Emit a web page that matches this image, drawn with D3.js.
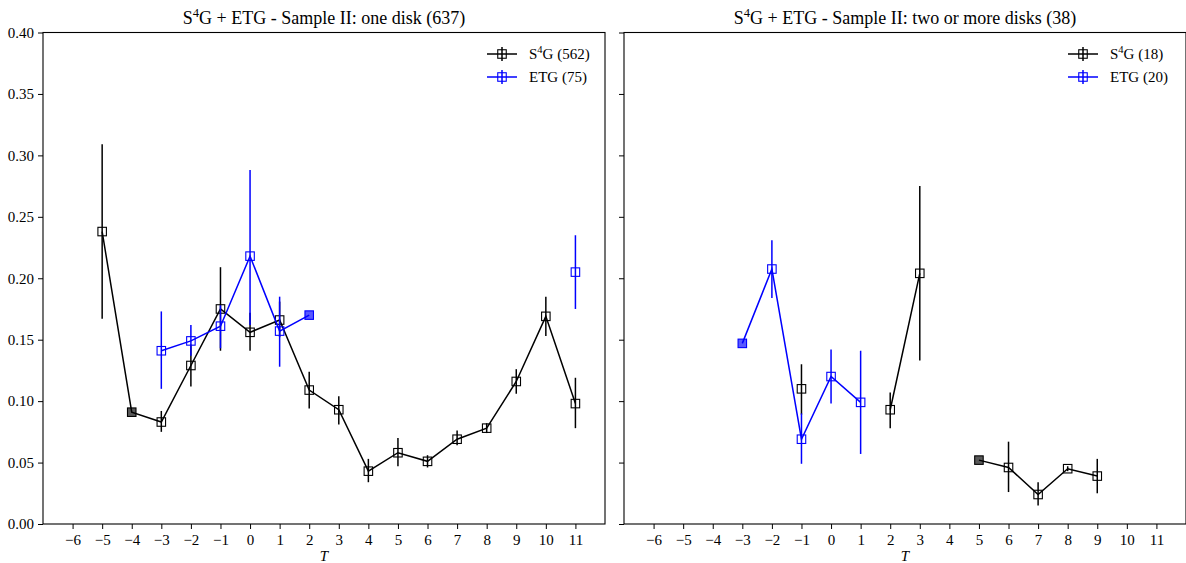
<!DOCTYPE html>
<html>
<head>
<meta charset="utf-8">
<script src="https://cdn.jsdelivr.net/npm/d3@7"></script>
<style>
  html, body { margin: 0; padding: 0; background: #fff; }
  svg { display: block; }
  text { font-family: "Liberation Serif", "DejaVu Serif", serif; fill: #000; }
</style>
</head>
<body>
<svg id="chart" width="1186" height="563"></svg>
<script>
// Morphological type axis
const tTicks = [-6, -5, -4, -3, -2, -1, 0, 1, 2, 3, 4, 5, 6, 7, 8, 9, 10, 11];
const yTicks = [0.00, 0.05, 0.10, 0.15, 0.20, 0.25, 0.30, 0.35, 0.40];

// Panel 1: one disk
const oneDiskS4gT   = [-5, -4, -3, -2, -1, 0, 1, 2, 3, 4, 5, 6, 7, 8, 9, 10, 11];
const oneDiskS4gVal = [0.238, 0.091, 0.083, 0.129, 0.175, 0.156, 0.166, 0.109, 0.093, 0.043, 0.058, 0.051, 0.069, 0.078, 0.116, 0.169, 0.098];
const oneDiskS4gLo  = [0.167, null, 0.075, 0.112, 0.141, 0.141, 0.152, 0.094, 0.081, 0.034, 0.047, 0.046, 0.064, 0.074, 0.106, 0.153, 0.078];
const oneDiskS4gHi  = [0.309, null, 0.092, 0.146, 0.209, 0.172, 0.181, 0.124, 0.104, 0.053, 0.070, 0.056, 0.076, 0.082, 0.126, 0.185, 0.119];

const oneDiskEtgT   = [-3, -2, -1, 0, 1, 2, 3, 4, 5, 6, 7, 8, 9, 10, 11];
const oneDiskEtgVal = [0.141, 0.149, 0.161, 0.218, 0.157, 0.170, null, null, null, null, null, null, null, null, 0.205];
const oneDiskEtgLo  = [0.110, 0.137, 0.143, 0.162, 0.128, null, null, null, null, null, null, null, null, null, 0.175];
const oneDiskEtgHi  = [0.173, 0.162, 0.178, 0.288, 0.185, null, null, null, null, null, null, null, null, null, 0.235];

// Panel 2: two or more disks
const multiDiskS4gT   = [-1, 0, 1, 2, 3, 4, 5, 6, 7, 8, 9];
const multiDiskS4gVal = [0.110, null, null, 0.093, 0.204, null, 0.052, 0.046, 0.024, 0.045, 0.039];
const multiDiskS4gLo  = [0.089, null, null, 0.078, 0.133, null, null, 0.026, 0.015, 0.043, 0.025];
const multiDiskS4gHi  = [0.130, null, null, 0.107, 0.275, null, null, 0.067, 0.034, 0.047, 0.053];

const multiDiskEtgT   = [-3, -2, -1, 0, 1];
const multiDiskEtgVal = [0.147, 0.2075, 0.069, 0.120, 0.099];
const multiDiskEtgLo  = [null, 0.184, 0.049, 0.098, 0.057];
const multiDiskEtgHi  = [null, 0.231, 0.090, 0.142, 0.141];

const panels = [
  {
    title: ["S", "4", "G + ETG - Sample II: one disk (637)"],
    left: 43, right: 605, yLabels: true,
    series: [
      { name: ["S", "4", "G (562)"], color: "#000000", T: oneDiskS4gT, v: oneDiskS4gVal, lo: oneDiskS4gLo, hi: oneDiskS4gHi },
      { name: ["ETG (75)"], color: "#0000ff", T: oneDiskEtgT, v: oneDiskEtgVal, lo: oneDiskEtgLo, hi: oneDiskEtgHi }
    ]
  },
  {
    title: ["S", "4", "G + ETG - Sample II: two or more disks (38)"],
    left: 624, right: 1186, yLabels: false,
    series: [
      { name: ["S", "4", "G (18)"], color: "#000000", T: multiDiskS4gT, v: multiDiskS4gVal, lo: multiDiskS4gLo, hi: multiDiskS4gHi },
      { name: ["ETG (20)"], color: "#0000ff", T: multiDiskEtgT, v: multiDiskEtgVal, lo: multiDiskEtgLo, hi: multiDiskEtgHi }
    ]
  }
];

const svg = d3.select("#chart");
const plotTop = 32.5, plotBottom = 524;
const markerSize = 8.5;
const tickFont = 15;

function addSupText(sel, parts, fontSize) {
  sel.append("tspan").text(parts[0]);
  if (parts.length > 1) {
    sel.append("tspan").attr("dy", -fontSize * 0.4).attr("font-size", fontSize * 0.7).text(parts[1]);
    sel.append("tspan").attr("dy", fontSize * 0.4).text(parts[2]);
  }
}

panels.forEach(p => {
  const x = d3.scaleLinear().domain([-7, 12]).range([p.left, p.right]);
  const y = d3.scaleLinear().domain([0, 0.40]).range([plotBottom, plotTop]);
  const g = svg.append("g");

  // Axes
  const xAxis = d3.axisBottom(x).tickValues(tTicks).tickSize(5).tickPadding(5)
    .tickFormat(d => d < 0 ? "\u2212" + Math.abs(d) : String(d));
  const gx = g.append("g").attr("transform", `translate(0,${plotBottom})`).call(xAxis);
  gx.select(".domain").remove();
  gx.selectAll("text").attr("font-size", tickFont).attr("font-family", "Liberation Serif");
  gx.selectAll("line").attr("stroke", "#000").attr("stroke-width", 1);

  const yAxis = d3.axisLeft(y).tickValues(yTicks).tickSize(5).tickPadding(4)
    .tickFormat(p.yLabels ? d3.format(".2f") : () => "");
  const gy = g.append("g").attr("transform", `translate(${p.left},0)`).call(yAxis);
  gy.select(".domain").remove();
  gy.selectAll("text").attr("font-size", tickFont).attr("font-family", "Liberation Serif");
  gy.selectAll("line").attr("stroke", "#000").attr("stroke-width", 1);

  // Series
  p.series.forEach(s => {
    const pts = s.T.map((t, i) => ({ t, v: s.v[i], lo: s.lo[i], hi: s.hi[i] }));
    const valid = pts.filter(d => d.v != null);

    g.append("g").selectAll("line")
      .data(valid.filter(d => d.lo != null))
      .join("line")
      .attr("x1", d => x(d.t)).attr("x2", d => x(d.t))
      .attr("y1", d => y(d.lo)).attr("y2", d => y(d.hi))
      .attr("stroke", s.color).attr("stroke-width", 1.5);

    const line = d3.line().defined(d => d.v != null).x(d => x(d.t)).y(d => y(d.v));
    g.append("path").datum(pts).attr("d", line)
      .attr("fill", "none").attr("stroke", s.color).attr("stroke-width", 1.5);

    g.append("g").selectAll("rect")
      .data(valid)
      .join("rect")
      .attr("x", d => x(d.t) - markerSize / 2).attr("y", d => y(d.v) - markerSize / 2)
      .attr("width", markerSize).attr("height", markerSize)
      .attr("fill", d => d.lo == null ? s.color : "none")
      .attr("fill-opacity", 0.65)
      .attr("stroke", s.color).attr("stroke-width", 1.1);
  });

  // Frame
  g.append("rect").attr("x", p.left).attr("y", plotTop)
    .attr("width", p.right - p.left).attr("height", plotBottom - plotTop)
    .attr("fill", "none").attr("stroke", "#000").attr("stroke-width", 1.1);

  // Title
  const title = g.append("text").attr("x", (p.left + p.right) / 2).attr("y", 24)
    .attr("text-anchor", "middle").attr("font-size", 18);
  addSupText(title, p.title, 18);

  // X label
  g.append("text").attr("x", (p.left + p.right) / 2).attr("y", 561)
    .attr("text-anchor", "middle").attr("font-size", tickFont).attr("font-style", "italic").text("T");

  // Legend
  const lx = p.right - 118, ly0 = 54;
  p.series.forEach((s, i) => {
    const ly = ly0 + i * 23;
    const lg = g.append("g");
    lg.append("line").attr("x1", lx).attr("x2", lx + 30).attr("y1", ly).attr("y2", ly)
      .attr("stroke", s.color).attr("stroke-width", 1.5);
    lg.append("line").attr("x1", lx + 15).attr("x2", lx + 15).attr("y1", ly - 7).attr("y2", ly + 7)
      .attr("stroke", s.color).attr("stroke-width", 1.5);
    lg.append("rect").attr("x", lx + 15 - markerSize / 2).attr("y", ly - markerSize / 2)
      .attr("width", markerSize).attr("height", markerSize)
      .attr("fill", "none").attr("stroke", s.color).attr("stroke-width", 1.1);
    const t = lg.append("text").attr("x", lx + 42).attr("y", ly + 5).attr("font-size", 15);
    addSupText(t, s.name, 15);
  });
});
</script>
</body>
</html>
